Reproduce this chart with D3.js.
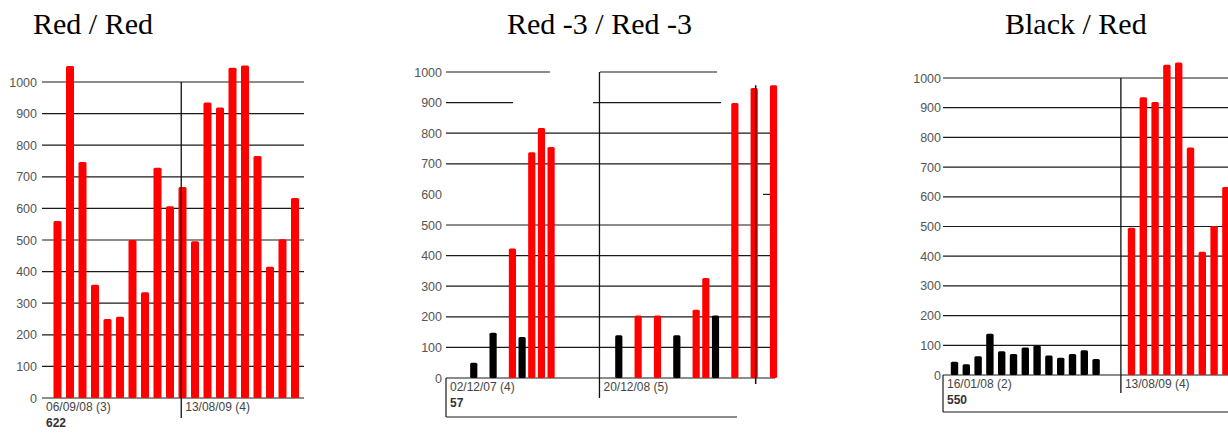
<!DOCTYPE html>
<html>
<head>
<meta charset="utf-8" />
<title>Red / Black sessions</title>
<script src="https://d3js.org/d3.v7.min.js"></script>
<style>
  body { margin: 0; background: #fff; }
  svg { display: block; }
</style>
</head>
<body>
<svg id="viz"></svg>
<script>
// ---- data ----
var titles = ["Red / Red", "Red -3 / Red -3", "Black / Red"];
var yTicks = [0, 100, 200, 300, 400, 500, 600, 700, 800, 900, 1000];

var sessionLabels = ["06/09/08 (3)", "13/08/09 (4)", "02/12/07 (4)", "20/12/08 (5)", "16/01/08 (2)"];
var footNumbers = ["622", "57", "550"];

// 06/09/08 (3) - all red
var s0609Values = [560, 1051, 747, 358, 250, 257, 500, 335, 729, 607, 668];
// 13/08/09 (4) - all red (shown in first and third chart)
var s1308Values = [496, 935, 919, 1045, 1052, 766, 415, 502, 633];
// 02/12/07 (4) - mixed
var s0212Slots = [0, 2, 4, 5, 6, 7, 8];
var s0212Values = [50, 148, 423, 134, 738, 817, 755];
var s0212Kinds = ["black", "black", "red", "black", "red", "red", "red"];
// 20/12/08 (5) - mixed
var s2012Slots = [15, 17, 19, 21, 23, 24, 25, 27, 29, 31];
var s2012Values = [140, 204, 204, 140, 223, 327, 204, 899, 948, 957];
var s2012Kinds = ["black", "red", "red", "black", "red", "red", "black", "red", "red", "red"];
// 16/01/08 (2) - all black
var s1601Values = [45, 36, 63, 139, 80, 71, 93, 99, 66, 58, 71, 83, 54];

var svg = d3.select("#viz").attr("width", 1228).attr("height", 433);

function seq(values, start, kind) {
  return values.map(function(v, i) { return { slot: start + i, value: v, kind: kind }; });
}

var panels = [
  {
    title: titles[0], titleX: 33,
    gx0: 42, gx1: 304, yZero: 398, yTop: 82,
    slot0: 57.5, step: 12.5, labelGap: 5, barW: 8,
    bars: seq(s0609Values, 0, "red").concat(seq(s1308Values, 11, "red")),
    dividerSlot: 9.9, dividerBottom: 418,
    sessions: [{ label: sessionLabels[0], at: "left", foot: footNumbers[0] }, { label: sessionLabels[1], at: "divider" }]
  },
  {
    title: titles[1], titleX: 507,
    gx0: 446, gx1: 775, yZero: 378, yTop: 72,
    slot0: 473.75, step: 9.67, labelGap: 4, barW: 7.2,
    bars: s0212Slots.map(function(s, i) { return { slot: s, value: s0212Values[i], kind: s0212Kinds[i] }; })
      .concat(s2012Slots.map(function(s, i) { return { slot: s, value: s2012Values[i], kind: s2012Kinds[i] }; })),
    breaks: { 1000: [[446, 550], [600, 717]], 900: [[446, 513], [593, 721]], 600: [[763, 775]] },
    dividerSlot: 13, dividerBottom: 398,
    frameY: 417, frameX1: 737,
    marker: { slot: 29, value: 957 },
    sessions: [{ label: sessionLabels[2], at: "left", foot: footNumbers[1] }, { label: sessionLabels[3], at: "divider" }]
  },
  {
    title: titles[2], titleX: 1005,
    gx0: 943, gx1: 1240, yZero: 375, yTop: 78,
    slot0: 954.5, step: 11.8, labelGap: 2, barW: 7.4,
    bars: seq(s1601Values, 0, "black").concat(seq(s1308Values, 15, "red")),
    dividerSlot: 14.1, dividerBottom: 393,
    frameY: 412, frameX1: 1240,
    sessions: [{ label: sessionLabels[4], at: "left", foot: footNumbers[2] }, { label: sessionLabels[1], at: "divider" }]
  }
];

panels.forEach(drawPanel);

function drawPanel(p) {
  var g = svg.append("g");
  var x = d3.scaleLinear().domain([0, 1]).range([p.slot0, p.slot0 + p.step]);
  var y = d3.scaleLinear().domain([0, 1000]).range([p.yZero, p.yTop]);

  // grid lines (some broken in the scan)
  var segs = [];
  yTicks.forEach(function(t) {
    var s = (p.breaks && p.breaks[t]) || [[p.gx0, p.gx1]];
    s.forEach(function(a) { segs.push({ t: t, a: a[0], b: a[1] }); });
  });
  g.selectAll("line.grid").data(segs).enter().append("line")
    .attr("class", "grid")
    .attr("x1", function(d) { return d.a; })
    .attr("x2", function(d) { return d.b; })
    .attr("y1", function(d) { return y(d.t); })
    .attr("y2", function(d) { return y(d.t); })
    .attr("stroke", "#1a1a1a")
    .attr("stroke-width", 1.2);

  // y labels
  var yAxis = d3.axisLeft(y).tickValues(yTicks).tickSize(0).tickPadding(p.labelGap).tickFormat(d3.format("d"));
  g.append("g")
    .attr("transform", "translate(" + p.gx0 + ",0)")
    .call(yAxis)
    .call(function(a) { a.select(".domain").remove(); })
    .attr("font-family", "'Liberation Sans', Arial, sans-serif")
    .attr("font-size", 12.5)
    .selectAll("text").attr("fill", "#555");

  // bottom frame
  if (p.frameY) {
    g.append("line")
      .attr("x1", p.gx0).attr("x2", p.frameX1)
      .attr("y1", p.frameY).attr("y2", p.frameY)
      .attr("stroke", "#1a1a1a").attr("stroke-width", 1.2);
    g.append("line")
      .attr("x1", p.gx0).attr("x2", p.gx0)
      .attr("y1", p.yZero).attr("y2", p.frameY)
      .attr("stroke", "#1a1a1a").attr("stroke-width", 1.2);
  }

  // bars
  var bw = p.barW;
  g.selectAll("rect.bar").data(p.bars).enter().append("rect")
    .attr("class", "bar")
    .attr("x", function(d) { return x(d.slot) - bw / 2; })
    .attr("y", function(d) { return y(d.value); })
    .attr("width", bw)
    .attr("height", function(d) { return y(0) - y(d.value); })
    .attr("rx", 1.5)
    .attr("fill", function(d) { return d.kind === "red" ? "#ff0000" : "#000"; });

  // session divider
  var dx = x(p.dividerSlot);
  g.append("line")
    .attr("x1", dx).attr("x2", dx)
    .attr("y1", y(1000)).attr("y2", p.dividerBottom)
    .attr("stroke", "#111").attr("stroke-width", 1.3);

  if (p.marker) {
    var mx = x(p.marker.slot) + 1.5;
    g.append("line")
      .attr("x1", mx).attr("x2", mx)
      .attr("y1", y(p.marker.value)).attr("y2", y(0) + 6)
      .attr("stroke", "#3a0000").attr("stroke-width", 1.5);
  }

  // session labels
  p.sessions.forEach(function(s) {
    var lx = (s.at === "left" ? p.gx0 : dx) + 4;
    g.append("text")
      .attr("x", lx).attr("y", p.yZero + 13)
      .attr("font-family", "'Liberation Sans', Arial, sans-serif")
      .attr("font-size", 12)
      .attr("fill", "#444")
      .text(s.label);
    if (s.foot) {
      g.append("text")
        .attr("x", lx).attr("y", p.yZero + 29)
        .attr("font-family", "'Liberation Sans', Arial, sans-serif")
        .attr("font-size", 12)
        .attr("font-weight", "bold")
        .attr("fill", "#333")
        .text(s.foot);
    }
  });

  // title
  svg.append("text")
    .attr("x", p.titleX).attr("y", 34)
    .attr("font-family", "'Liberation Serif', 'Times New Roman', serif")
    .attr("font-size", 30)
    .attr("fill", "#000")
    .text(p.title);
}
</script>
</body>
</html>
